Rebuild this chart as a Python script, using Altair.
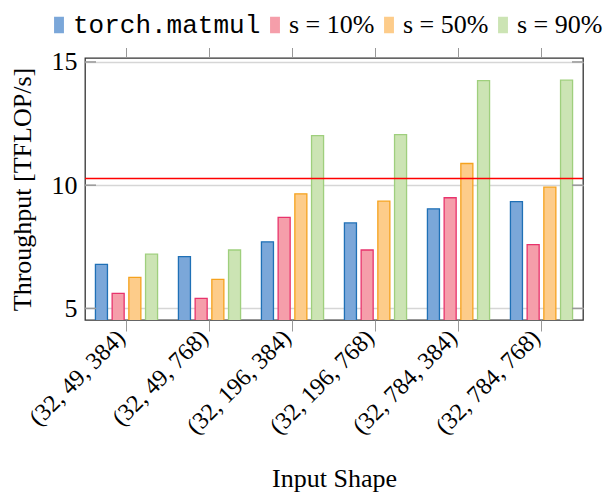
import altair as alt
import pandas as pd

shapes = ["(32, 49, 384)", "(32, 49, 768)", "(32, 196, 384)",
          "(32, 196, 768)", "(32, 784, 384)", "(32, 784, 768)"]
series = ["torch.matmul", "s = 10%", "s = 50%", "s = 90%"]
matmul = [6.79, 7.10, 7.70, 8.47, 9.04, 9.33]
s10 = [5.61, 5.41, 8.69, 7.37, 9.49, 7.59]
s50 = [6.26, 6.18, 9.65, 9.35, 10.88, 9.92]
s90 = [7.20, 7.37, 12.01, 12.05, 14.24, 14.26]
reference_line = 10.27
y_ticks = [5, 10, 15]
y_domain = [4.53, 15.16]

fills = ["#7ba7d9", "#f59eaa", "#fdcc8a", "#cce4b4"]
strokes = ["#1f70b6", "#e8336c", "#f5a21e", "#9fcf7d"]

rows = []
for name, vals in zip(series, [matmul, s10, s50, s90]):
    for shp, v in zip(shapes, vals):
        rows.append({"shape": shp, "series": name, "value": v})
df = pd.DataFrame(rows)

W, H = 498, 262
SERIF = "Liberation Serif"
MONO = "Liberation Mono"
FS = 26

x_enc = alt.X("shape:N", sort=shapes,
              scale=alt.Scale(paddingInner=0.195, paddingOuter=0.0975),
              axis=alt.Axis(title="Input Shape", labelAngle=-45, labelAlign="right",
                            labelBaseline="middle", labelFont=SERIF, labelFontSize=24,
                            labelColor="black", labelPadding=3, labelOffset=-5,
                            tickSize=11, tickColor="#999999", tickWidth=1, domain=False,
                            grid=False, titleFont=SERIF, titleFontSize=FS,
                            titleFontWeight="normal", titleColor="black", titlePadding=27))
y_enc = alt.Y("value:Q", scale=alt.Scale(domain=y_domain, zero=False, nice=False),
              axis=alt.Axis(title="Throughput [TFLOP/s]", values=y_ticks, tickSize=0,
                            labelFont=SERIF, labelFontSize=FS, labelColor="black",
                            labelPadding=8, domain=False, grid=True, gridColor="#d6d6d6",
                            gridWidth=1.5, titleFont=SERIF, titleFontSize=FS,
                            titleFontWeight="normal", titleColor="black", titlePadding=16))

bars = alt.Chart(df).mark_bar(strokeWidth=1.3, clip=True).encode(
    x=x_enc,
    xOffset=alt.XOffset("series:N", sort=series,
                        scale=alt.Scale(paddingInner=0.28, paddingOuter=0.14)),
    y=y_enc,
    fill=alt.Fill("series:N", sort=series,
                  scale=alt.Scale(domain=series, range=fills),
                  legend=alt.Legend(
                      title=None, orient="none", direction="horizontal",
                      legendX=-39, legendY=-46,
                      symbolType="M-0.6,-1H0.6V1H-0.6Z", symbolSize=272,
                      symbolStrokeWidth=0, symbolOpacity=1,
                      labelFont=alt.ExprRef(
                          "datum.label == 'torch.matmul' ? '" + MONO + "' : '" + SERIF + "'"),
                      labelFontSize=FS, labelLimit=300,
                      labelColor="black", labelOffset=1,
                      columnPadding=1)),
    stroke=alt.Stroke("series:N", sort=series,
                      scale=alt.Scale(domain=series, range=strokes), legend=None),
)

top_ticks = alt.Chart(pd.DataFrame({"shape": shapes})).mark_rule(
    color="#999999", strokeWidth=1).encode(
    x=alt.X("shape:N", sort=shapes), y=alt.value(-10), y2=alt.value(0))

ticks_df = pd.DataFrame({"v": y_ticks})
left_ticks = alt.Chart(ticks_df).mark_rule(color="#999999", strokeWidth=1.5).encode(
    y=alt.Y("v:Q"), x=alt.value(0), x2=alt.value(11))
right_ticks = alt.Chart(ticks_df).mark_rule(color="#999999", strokeWidth=1.5).encode(
    y=alt.Y("v:Q"), x=alt.value(W - 11), x2=alt.value(W))

red = alt.Chart(pd.DataFrame({"r": [reference_line]})).mark_rule(
    color="#ff0000", strokeWidth=1.3).encode(y=alt.Y("r:Q"))

chart = alt.layer(bars, top_ticks, left_ticks, right_ticks, red).properties(
    width=W, height=H,
    padding={"left": 0, "top": 4, "right": 2, "bottom": 2},
).configure(font=SERIF).configure_view(stroke="#333333", strokeWidth=1.3)

chart.save("out.html", embed_options={"renderer": "svg", "actions": False})
